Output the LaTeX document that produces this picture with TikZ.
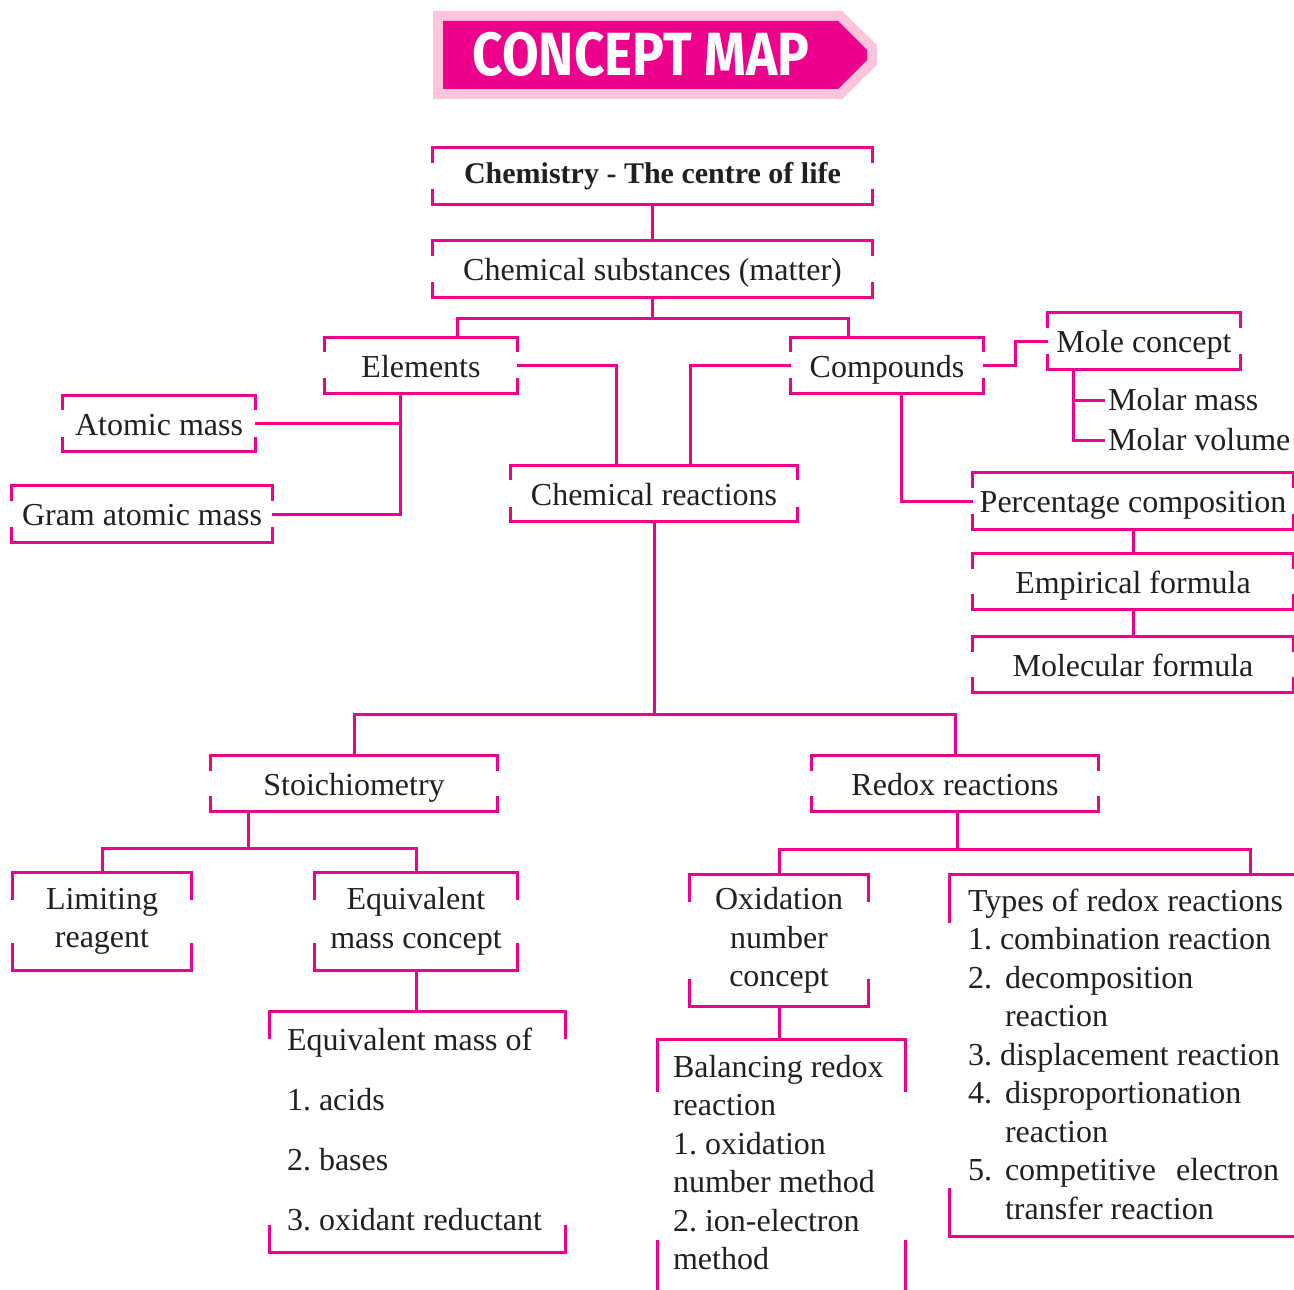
\documentclass[tikz,border=0pt]{standalone}
\usepackage{fontspec}
\usepackage{graphicx}
\setmainfont{Liberation Serif}
\newfontfamily\bannerfont{Fira Sans}
\usetikzlibrary{calc,positioning}
\definecolor{cmline}{RGB}{236,0,140}
\definecolor{cmpale}{RGB}{252,196,218}
\definecolor{cmtext}{RGB}{35,31,32}
\newcommand{\listcol}[2]{\makebox[#1][l]{\begin{tabular}[t]{@{}l@{}}#2\end{tabular}}}
\frenchspacing

\begin{document}
\begin{tikzpicture}[x=1pt,y=-1pt,
  link/.style={draw=cmline,line width=3pt},
  cbox/.style={inner sep=0pt,align=center,text=cmtext,font=\fontsize{32}{38.5}\selectfont},
  sbox/.style={cbox,text height=23pt,text depth=0pt},
  lbox/.style={inner ysep=0pt,text=cmtext,font=\fontsize{32}{38.5}\selectfont}]
  \useasboundingbox (0,0) rectangle (1294,1290);

  % banner
  \fill[cmpale] (433,11) -- (842,11) -- (877,45) -- (877,65) -- (842,99) -- (433,99) -- cycle;
  \fill[cmline] (443,21) -- (838,21) -- (867,50) -- (867,60) -- (838,89) -- (443,89) -- cycle;
  \node[text=white,font=\bannerfont\bfseries\fontsize{61}{61}\selectfont] (banner) at (641,54)
      {\scalebox{0.87}[1]{CONCEPT MAP}};

  % boxes
  \node[cbox,minimum width=439pt,minimum height=56pt] (top) at (652.5,176)
      {\fontsize{30}{36}\selectfont\bfseries Chemistry - The centre of life};
  \node[sbox,minimum width=439pt,minimum height=56pt] (subst) at (652.5,269) {Chemical substances (matter)};
  \node[sbox,minimum width=192pt,minimum height=55pt] (elem) at (421,365.5) {Elements};
  \node[sbox,minimum width=192pt,minimum height=55pt] (comp) at (887,365.5) {Compounds};
  \node[sbox,minimum width=286pt,minimum height=55pt] (react) at (654,493.5) {Chemical reactions};
  \node[sbox,minimum width=192pt,minimum height=55pt] (atom) at (159,423.5) {Atomic mass};
  \node[sbox,minimum width=260pt,minimum height=56pt] (gram) at (142,514) {Gram atomic mass};
  \node[sbox,minimum width=192pt,minimum height=56pt] (mole) at (1144,341) {Mole concept};
  \node[cbox,anchor=west,inner xsep=3pt] (mmass) at (1105,400) {Molar mass};
  \node[cbox,anchor=west,inner xsep=3pt] (mvol) at (1105,440) {Molar volume};
  \node[sbox,minimum width=320pt,minimum height=56pt] (perc) at (1133,501) {Percentage composition};
  \node[sbox,minimum width=320pt,minimum height=55pt] (emp) at (1133,581.5) {Empirical formula};
  \node[sbox,minimum width=320pt,minimum height=55pt] (molec) at (1133,664.5) {Molecular formula};
  \node[sbox,minimum width=286pt,minimum height=55pt] (stoi) at (354,783.5) {Stoichiometry};
  \node[sbox,minimum width=286pt,minimum height=55pt] (redox) at (955,783.5) {Redox reactions};
  \node[cbox,minimum width=178pt,minimum height=97pt] (limit) at (102,921.5) {Limiting\\reagent};
  \node[cbox,minimum width=202pt,minimum height=97pt] (equiv) at (416,921.5) {Equivalent\\mass concept};
  \node[cbox,minimum width=178pt,minimum height=131pt] (oxid) at (779,940.5) {Oxidation\\number\\concept};
  \node[lbox,font=\fontsize{32}{60}\selectfont,inner xsep=17pt,text height=38pt,text depth=202pt]
      (eqof) at (417.5,1132)
      {\listcol{261pt}{Equivalent mass of\\1. acids\\2. bases\\3. oxidant reductant}};
  \node[lbox,inner xsep=15pt,text height=37pt,text depth=223pt] (bal) at (781.5,1170)
      {\listcol{217pt}{Balancing redox\\reaction\\1. oxidation\\number method\\2. ion-electron\\method}};
  \node[lbox,inner xsep=18pt,text height=36pt,text depth=325pt] (types) at (1138,1055.5)
      {\listcol{340pt}{Types of redox reactions\\
       1. combination reaction\\
       \makebox[37pt][l]{2.}decomposition\\
       \hspace*{37pt}reaction\\
       3. displacement reaction\\
       \makebox[37pt][l]{4.}disproportionation\\
       \hspace*{37pt}reaction\\
       \makebox[37pt][l]{5.}competitive\hspace{12pt} electron\\
       \hspace*{37pt}transfer reaction}};

  % bracket corners
  \foreach \n/\t/\b in {top/15/15,subst/15/15,elem/14/15,comp/14/15,react/14/14,atom/14/14,
      gram/15/15,mole/15/15,perc/15/15,emp/15/15,molec/15/15,stoi/15/15,redox/15/15,
      limit/27/27,equiv/27/27,eqof/27/27,oxid/27/27,bal/52/60,types/48/48}
    \draw[link] ($(\n.north west)+(0,\t)$) |- (\n.north east) -- ++(0,\t)
                ($(\n.south west)+(0,-\b)$) |- (\n.south east) -- ++(0,-\b);

  % connectors
  \draw[link] (top.south) -- (subst.north);
  \draw[link] (subst.south) -- ++(0,21) -| ($(elem.north)+(36,0)$);
  \draw[link] (subst.south) -- ++(0,21) -| ($(comp.north)+(-39,0)$);
  \draw[link] (elem.east) -| ($(react.north)+(-38,0)$);
  \draw[link] (comp.west) -| ($(react.north)+(36,0)$);
  \draw[link] ($(elem.south)+(-21,0)$) |- (gram.east);
  \draw[link] (atom.east) -| ($(elem.south)+(-21,0)$);
  \draw[link] (comp.east) -- ++(32,0) |- (mole.west);
  \draw[link] ($(mole.south)+(-71,0)$) |- (mvol.west);
  \draw[link] (mmass.west) -- ++(-32,0);
  \draw[link] ($(comp.south)+(14,0)$) |- (perc.west);
  \draw[link] (perc.south) -- (emp.north);
  \draw[link] (emp.south) -- (molec.north);
  \draw[link] (react.south) -- ++(0,193) -| (stoi.north);
  \draw[link] (react.south) -- ++(0,193) -| (redox.north);
  \draw[link] ($(stoi.south)+(-106,0)$) -- ++(0,37) -| (limit.north);
  \draw[link] ($(stoi.south)+(-106,0)$) -- ++(0,37) -| (equiv.north);
  \draw[link] (equiv.south) -- (equiv.south |- eqof.north);
  \draw[link] ($(redox.south)+(2,0)$) -- ++(0,38) -| (oxid.north);
  \draw[link] ($(redox.south)+(2,0)$) -- ++(0,38) -| ($(types.north)+(112,0)$);
  \draw[link] (oxid.south) -- (oxid.south |- bal.north);
\end{tikzpicture}
\end{document}
